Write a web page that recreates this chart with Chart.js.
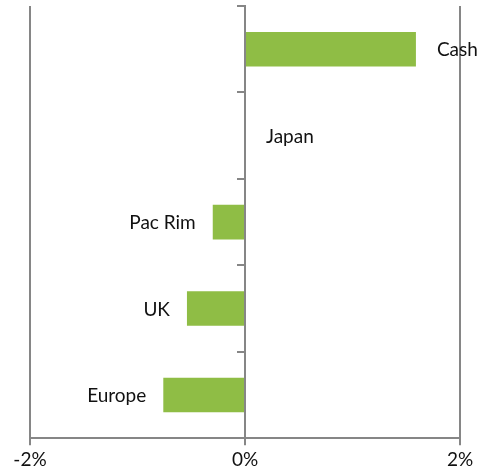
<!DOCTYPE html>
<html>
<head>
<meta charset="utf-8">
<script src="https://cdn.jsdelivr.net/npm/chart.js@4/dist/chart.umd.min.js"></script>
<style>
  html, body { margin: 0; padding: 0; background: #fff; }
  #wrap { width: 488px; height: 474px; }
</style>
</head>
<body>
<div id="wrap"><canvas id="chart"></canvas></div>
<script>
const regions = ['Cash', 'Japan', 'Pac Rim', 'UK', 'Europe'];
const weights = [1.59, 0, -0.30, -0.54, -0.76];
const xTicks = [-2, 0, 2];

const GREEN = '#8fbd45';
const AXIS = '#868686';
const FONT = 'Lato, "Open Sans", sans-serif';

// category name written beside each bar, on the outside end
const barLabels = {
  id: 'barLabels',
  afterDatasetsDraw(chart) {
    const ctx = chart.ctx;
    const meta = chart.getDatasetMeta(0);
    ctx.save();
    ctx.font = '19px ' + FONT;
    ctx.fillStyle = '#111';
    ctx.textBaseline = 'middle';
    meta.data.forEach((bar, i) => {
      const v = weights[i];
      if (v >= 0) {
        ctx.textAlign = 'left';
        ctx.fillText(regions[i], bar.x + 21, bar.y + 1);
      } else {
        ctx.textAlign = 'right';
        ctx.fillText(regions[i], bar.x - 17, bar.y + 1);
      }
    });
    ctx.restore();
  }
};

new Chart(document.getElementById('chart'), {
  type: 'bar',
  data: {
    labels: regions,
    datasets: [{
      data: weights,
      backgroundColor: GREEN,
      borderWidth: 0,
      categoryPercentage: 1,
      barPercentage: 0.4
    }]
  },
  options: {
    indexAxis: 'y',
    responsive: true,
    maintainAspectRatio: false,
    animation: false,
    layout: { padding: { left: 30, right: 28, top: 6, bottom: 0 } },
    plugins: {
      legend: { display: false },
      tooltip: { enabled: false }
    },
    scales: {
      x: {
        min: -2,
        max: 2,
        afterBuildTicks(scale) {
          scale.ticks = xTicks.map(v => ({ value: v }));
        },
        grid: {
          color: AXIS,
          lineWidth: 2,
          tickLength: 7
        },
        border: { color: AXIS, width: 2 },
        ticks: {
          padding: 3,
          color: '#111',
          font: { family: FONT, size: 19 },
          callback: v => v + '%',
          maxRotation: 0
        }
      },
      y: {
        position: { x: 0 },
        grid: {
          offset: true,
          drawOnChartArea: false,
          color: AXIS,
          lineWidth: 2,
          tickLength: 7
        },
        border: { color: AXIS, width: 2 },
        ticks: { display: false }
      }
    }
  },
  plugins: [barLabels]
});
</script>
</body>
</html>
